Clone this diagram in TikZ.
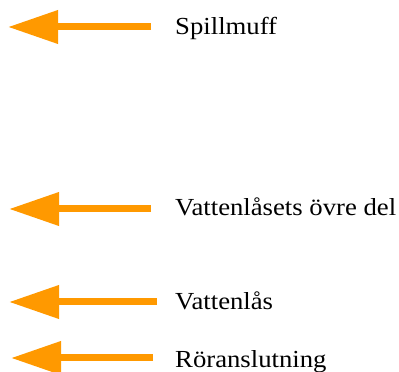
\documentclass[tikz,border=0pt]{standalone}
\usepackage{fontspec}
\setmainfont{Liberation Serif}
\newfontfamily\lblfont[FakeStretch=1.09]{Liberation Serif}
\usetikzlibrary{arrows.meta}
\definecolor{arr}{HTML}{FF9900}
\begin{document}
\begin{tikzpicture}[x=1pt,y=1pt,
  pointer/.style={draw=arr,line width=7pt,-{Triangle[length=50pt,width=32pt]}},
  lbl/.style={anchor=base west,inner sep=0pt,font=\lblfont\fontsize{24.5}{28}\selectfont}]
\useasboundingbox (0,0) rectangle (399,372);
\coordinate (s1) at (151,345); \coordinate (t1) at (8,345);
\coordinate (s2) at (151,163); \coordinate (t2) at (9,163);
\coordinate (s3) at (157,70);  \coordinate (t3) at (9,70);
\coordinate (s4) at (153,14);  \coordinate (t4) at (11,14);
\node[lbl] (l1) at (175,337) {Spillmuff};
\node[lbl] (l2) at (175,156) {Vattenlåsets övre del};
\node[lbl] (l3) at (175,62) {Vattenlås};
\node[lbl] (l4) at (175,4) {Röranslutning};
\draw[pointer] (s1) -- (t1);
\draw[pointer] (s2) -- (t2);
\draw[pointer] (s3) -- (t3);
\draw[pointer] (s4) -- (t4);
\end{tikzpicture}
\end{document}
